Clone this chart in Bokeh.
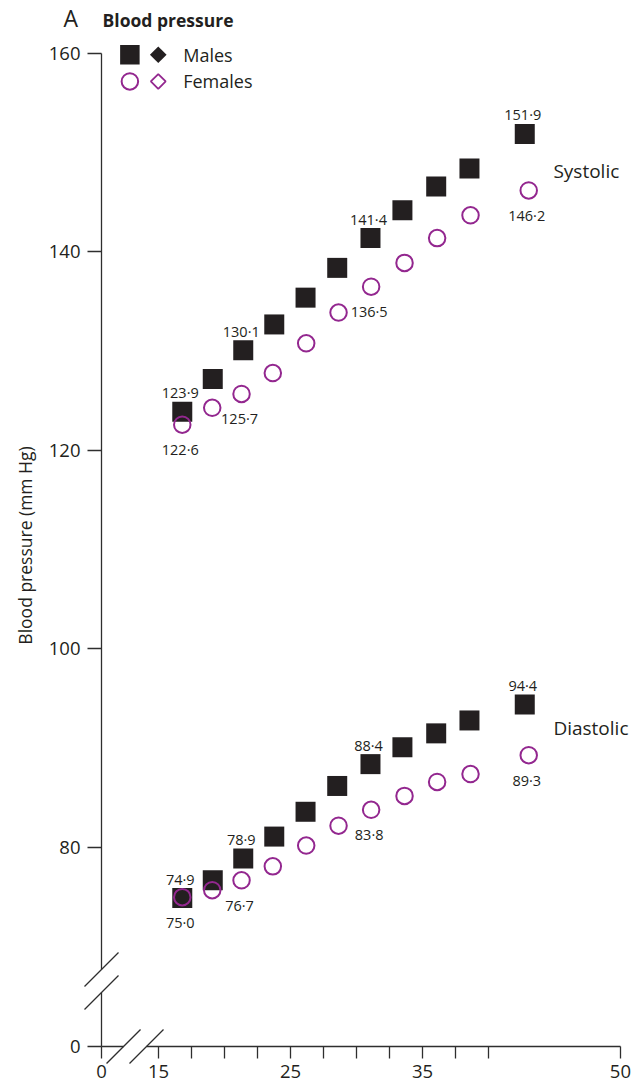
from bokeh.plotting import figure
from bokeh.models import Range1d, FixedTicker, Label
from bokeh.embed import file_html
from bokeh.resources import INLINE
from bokeh.core.properties import value

# ---------------- data ----------------
bmi_male = [16.80, 19.11, 21.42, 23.77, 26.14, 28.54, 31.06, 33.48, 36.04, 38.56, 42.75]
bmi_female = [16.80, 19.07, 21.29, 23.66, 26.19, 28.64, 31.11, 33.64, 36.11, 38.64, 43.05]

sbp_male = [123.9, 127.2, 130.1, 132.7, 135.4, 138.4, 141.4, 144.2, 146.6, 148.4, 151.9]
sbp_female = [122.6, 124.3, 125.7, 127.8, 130.8, 133.9, 136.5, 138.9, 141.4, 143.7, 146.2]
dbp_male = [74.9, 76.7, 78.9, 81.1, 83.6, 86.2, 88.4, 90.1, 91.5, 92.8, 94.4]
dbp_female = [75.0, 75.7, 76.7, 78.1, 80.2, 82.2, 83.8, 85.2, 86.6, 87.4, 89.3]

label_idx = [0, 2, 6, 10]

x_ticks = [15, 17.5, 20, 22.5, 25, 27.5, 30, 32.5, 35, 37.5, 40, 50]
x_tick_labels = ["15", "", "", "", "25", "", "", "", "35", "", "", "50"]
y_ticks = [80, 100, 120, 140, 160]
y_tick_labels = ["80", "100", "120", "140", "160"]

# broken axes: where "0" sits on each axis, and where the breaks are
X_ZERO_POS = 10.68
Y_ZERO_POS = 59.95
X_BREAKS = [12.35, 14.09]
Y_BREAKS = [65.39, 67.71]

FONT = "Open Sans"
INK = "#231F20"
AXIS = "#2e2e2e"
PURPLE = "#93278F"

p = figure(width=634, height=1086,
           x_range=Range1d(X_ZERO_POS, 50.61), y_range=Range1d(Y_ZERO_POS, 164.13),
           output_backend="svg", toolbar_location=None,
           min_border_left=101, min_border_right=6, min_border_top=12, min_border_bottom=40)
p.outline_line_color = None
p.grid.visible = False
p.background_fill_color = "white"
p.border_fill_color = "white"

xa = p.xaxis[0]
ya = p.yaxis[0]
xa.ticker = FixedTicker(ticks=[X_ZERO_POS] + x_ticks)
xa.major_label_overrides = {X_ZERO_POS: "0", **{t: s for t, s in zip(x_ticks, x_tick_labels)}}
ya.ticker = FixedTicker(ticks=[Y_ZERO_POS] + y_ticks)
ya.major_label_overrides = {Y_ZERO_POS: "0", **{t: s for t, s in zip(y_ticks, y_tick_labels)}}
xa.bounds = (X_ZERO_POS, 50)
ya.bounds = (Y_ZERO_POS, 160)
for ax in (xa, ya):
    ax.axis_line_color = AXIS
    ax.axis_line_width = 1.3
    ax.major_tick_line_color = AXIS
    ax.major_tick_line_width = 1.3
    ax.major_tick_in = 0
    ax.minor_tick_line_color = None
    ax.major_label_text_font = FONT
    ax.major_label_text_font_size = "18.5px"
    ax.major_label_text_color = INK
xa.major_tick_out = 12
ya.major_tick_out = 14
xa.major_label_standoff = 6
ya.major_label_standoff = 7


def overlay_text(x, y, txt, size, style="normal", align="left", angle=0.0):
    r = p.text([x], [y], text=[txt], angle=angle, text_align=align, text_baseline="middle",
               text_font=value(FONT), text_font_size=size, text_font_style=style,
               text_color=INK)
    r.level = "overlay"
    return r


# y-axis title (placed like the original, not centred on the frame)
overlay_text(4.92, 110.43, "Blood pressure (mm Hg)", "17.5px", align="center", angle=1.5707963)

# ---------------- data marks ----------------
for ys in (sbp_male, dbp_male):
    p.scatter(bmi_male, ys, marker="square", size=20, fill_color=INK, line_color=None)
for ys in (sbp_female, dbp_female):
    p.scatter(bmi_female, ys, marker="circle", size=16.5, fill_color=None,
              line_color=PURPLE, line_width=2)


def fmt(v):
    return f"{v:.1f}".replace(".", "\u00b7")


def value_labels(xs, ys, dy):
    p.text([xs[i] for i in label_idx], [ys[i] for i in label_idx],
           text=[fmt(ys[i]) for i in label_idx], x_offset=-2, y_offset=dy,
           text_align="center", text_baseline="middle", text_font=value(FONT),
           text_font_size="14.5px", text_color=INK)


value_labels(bmi_male, sbp_male, -19)
value_labels(bmi_male, dbp_male, -19)
value_labels(bmi_female, sbp_female, 25)
value_labels(bmi_female, dbp_female, 25)

overlay_text(44.92, 148.21, "Systolic", "19px")
overlay_text(44.92, 92.09, "Diastolic", "19px")

# ---------------- title & legend ----------------
overlay_text(7.8, 163.53, "A", "23px")
overlay_text(10.76, 163.33, "Blood pressure", "17.5px", style="bold")

LEG_X = [12.83, 14.98, 16.87]
LEG_Y = [159.87, 157.18]
p.scatter([LEG_X[0]], [LEG_Y[0]], marker="square", size=19.5, fill_color=INK, line_color=None)
p.scatter([LEG_X[1]], [LEG_Y[0]], marker="square", size=11.8, angle=0.785398,
          fill_color=INK, line_color=None)
p.scatter([LEG_X[0]], [LEG_Y[1]], marker="circle", size=16.5, fill_color=None,
          line_color=PURPLE, line_width=2)
p.scatter([LEG_X[1]], [LEG_Y[1]], marker="square", size=10.5, angle=0.785398,
          fill_color=None, line_color=PURPLE, line_width=1.8)
overlay_text(LEG_X[2], LEG_Y[0], "Males", "18px")
overlay_text(LEG_X[2], LEG_Y[1], "Females", "18px")

# ---------------- axis breaks ----------------
DX = 17 / 13.2
DY = 17 / 9.925
gap_x = p.segment(x0=[X_BREAKS[0]], y0=[Y_ZERO_POS], x1=[X_BREAKS[1]], y1=[Y_ZERO_POS],
                  line_color="white", line_width=5)
gap_y = p.segment(x0=[X_ZERO_POS], y0=[Y_BREAKS[0]], x1=[X_ZERO_POS], y1=[Y_BREAKS[1]],
                  line_color="white", line_width=5)
gap_x.level = "annotation"
gap_y.level = "annotation"
sl = p.segment(x0=[b - DX for b in X_BREAKS] + [X_ZERO_POS - DX] * 2,
               y0=[Y_ZERO_POS - DY] * 2 + [b - DY for b in Y_BREAKS],
               x1=[b + DX for b in X_BREAKS] + [X_ZERO_POS + DX] * 2,
               y1=[Y_ZERO_POS + DY] * 2 + [b + DY for b in Y_BREAKS],
               line_color=AXIS, line_width=1.3)
sl.level = "overlay"

open("out.html", "w").write(file_html(p, INLINE))
